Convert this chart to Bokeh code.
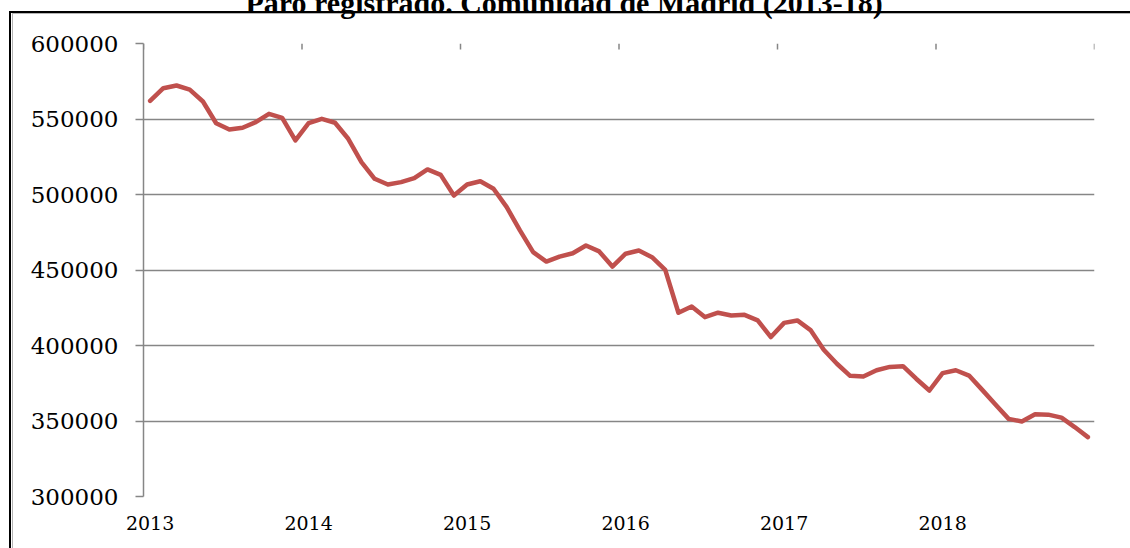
from bokeh.plotting import figure
from bokeh.models import (Range1d, FixedTicker, ColumnDataSource, NumeralTickFormatter)
from bokeh.embed import file_html
from bokeh.resources import INLINE

# ---------------- data ----------------
title_text = "Paro registrado. Comunidad de Madrid (2013-18)"
years = ["2013", "2014", "2015", "2016", "2017", "2018"]
paro = [562000, 570400, 572200, 569500, 561600, 547200, 543000, 544200, 547900, 553400, 550800, 535800,
        547200, 550100, 547500, 536900, 521400, 510400, 506600, 508200, 510800, 516600, 513000, 499300,
        506600, 508800, 503800, 491600, 476200, 461800, 455600, 458900, 461100, 466200, 462300, 452300,
        460800, 462900, 458500, 450100, 421700, 425800, 418800, 421700, 419900, 420300, 416600, 405600,
        415000, 416600, 410200, 397200, 387900, 379900, 379500, 383600, 385800, 386300, 378000, 370200,
        381700, 383600, 380100, 370600, 360900, 351400, 349700, 354400, 354200, 352200, 346000, 339300]
y_ticks = [300000, 350000, 400000, 450000, 500000, 550000, 600000]

months = list(range(len(paro)))
year_pos = [12 * i for i in range(len(years))]
year_bounds = [12 * i - 0.5 for i in range(len(years) + 1)]

# ---------------- layout ----------------
SHIFT_Y = 38                    # canvas starts above the window: title is cut off like the reference
SHIFT_X = 40
W, H = 1230, 645
FL, FR = 143 + SHIFT_X, 1094 + SHIFT_X
FT, FB = 43 + SHIFT_Y, 496 + SHIFT_Y
X0, X1 = -0.5, len(paro) - 0.5
Y0, Y1 = 300000, 600000

def dy(py):
    return Y1 - (py - FT) * (Y1 - Y0) / (FB - FT)

GRID = "#868686"

p = figure(width=W, height=H, output_backend="svg", toolbar_location=None,
           x_range=Range1d(X0, X1), y_range=Range1d(Y0, Y1),
           min_border_left=FL, min_border_right=W - FR,
           min_border_top=FT, min_border_bottom=H - FB)

# chart box (black outer line, grey inner line) painted as the element background
bx, by = 9 + SHIFT_X, 11 + SHIFT_Y
cover_x = 1100 + SHIFT_X
p.styles = {
    "margin-top": f"-{SHIFT_Y}px",
    "margin-left": f"-{SHIFT_X}px",
    "background-color": "white",
    "background-image": ("linear-gradient(#fff,#fff), "
                         "linear-gradient(#000,#000), linear-gradient(#000,#000), "
                         "linear-gradient(#b4b4b4,#b4b4b4), linear-gradient(#b4b4b4,#b4b4b4)"),
    "background-size": (f"{W - cover_x}px {H - by - 4}px, "
                        f"2px {H}px, {W}px 2px, 1px {H}px, {W}px 1px"),
    "background-position": (f"{cover_x}px {by + 4}px, "
                            f"{bx}px {by}px, {bx}px {by}px, {bx + 3}px {by + 2}px, {bx + 3}px {by + 2}px"),
    "background-repeat": "no-repeat",
}
p.outline_line_color = None
p.background_fill_color = "white"
p.border_fill_color = None

# title (an empty second line lifts it so that its top is cut off, as in the reference)
p.title.text = title_text + "\n "
p.title.align = "left"
p.title.offset = 245 - 143
p.title.text_font = "Liberation Serif"
p.title.text_font_style = "bold"
p.title.text_font_size = "30px"
p.title.text_line_height = 0.6
p.title.text_color = "black"
p.title.standoff = 10

# x axis (bottom): labels only
p.xaxis.ticker = FixedTicker(ticks=year_pos)
p.xaxis.major_label_overrides = {pos: y for pos, y in zip(year_pos, years)}
p.xaxis.axis_line_color = None
p.xaxis.major_tick_line_color = None
p.xaxis.minor_tick_line_color = None
p.xaxis.major_tick_out = 0
p.xaxis.major_label_standoff = 19
p.xaxis.major_label_text_font = "DejaVu Serif"
p.xaxis.major_label_text_font_size = "19px"
p.xaxis.major_label_text_color = "black"
p.xgrid.visible = False

# y axis
p.yaxis.ticker = FixedTicker(ticks=y_ticks)
p.yaxis.formatter = NumeralTickFormatter(format="0")
p.yaxis.axis_line_color = GRID
p.yaxis.axis_line_width = 1.5
p.yaxis.major_tick_line_color = GRID
p.yaxis.major_tick_line_width = 1.5
p.yaxis.major_tick_in = 0
p.yaxis.major_tick_out = 8
p.yaxis.minor_tick_line_color = None
p.yaxis.major_label_standoff = 17
p.yaxis.major_label_text_font = "DejaVu Serif"
p.yaxis.major_label_text_font_size = "23px"
p.yaxis.major_label_text_color = "black"
p.ygrid.ticker = FixedTicker(ticks=y_ticks)
p.ygrid.grid_line_color = GRID
p.ygrid.grid_line_width = 1.5

# year-boundary tick marks hanging from the top line
n = len(year_bounds)
p.segment(x0=year_bounds, y0=[Y1] * n, x1=year_bounds, y1=[dy(FT + 6)] * n,
          line_color=GRID, line_width=1.5)

# series
src = ColumnDataSource(data=dict(m=months, v=paro))
p.line(x="m", y="v", source=src, line_color="#C0504D", line_width=4.5,
       line_join="round", line_cap="round")

open("out.html", "w").write(file_html(p, INLINE))
